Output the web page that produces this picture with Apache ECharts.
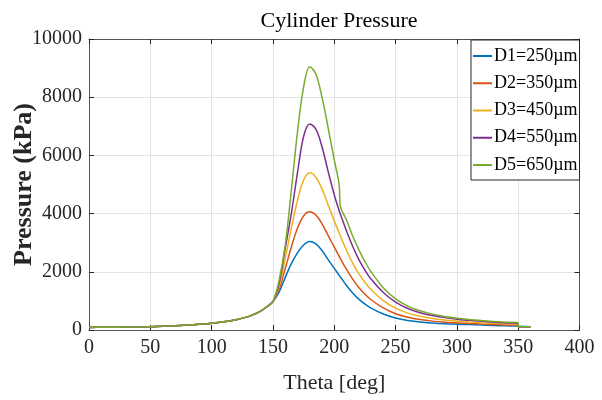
<!DOCTYPE html>
<html>
<head>
<meta charset="utf-8">
<script src="https://cdn.jsdelivr.net/npm/echarts@6/dist/echarts.min.js"></script>
<style>
html,body{margin:0;padding:0;background:#fff;}
#chart{width:602px;height:400px;}
</style>
</head>
<body>
<div id="chart"></div>
<script>
// Crank angle samples (deg)
const theta = [0,10,20,30,40,50,60,70,80,90,100,110,120,130,135,140,145,150,
  155,160,165,170,175,180,185,190,195,200,204,205,210,215,220,225,230,
  240,250,260,270,280,290,300,310,320,330,340,350,350,360];
// Shared compression stroke (0..150 deg), kPa
const compression = [90,92,95,100,106,115,128,145,170,200,235,285,355,460,545,650,800,980];
// Combustion / expansion part (155..350 deg) per nozzle diameter
const d1 = [1300,1800,2280,2650,2920,3040,2960,2730,2420,2120,1880,1820,1530,1270,1060,890,750,550,410,330,275,240,215,200,185,170,155,143,130];
const d2 = [1400,2100,2850,3500,3920,4060,3950,3650,3250,2850,2530,2450,2080,1750,1460,1230,1040,760,560,440,360,305,270,245,222,203,187,173,160];
const d3 = [1500,2450,3500,4450,5150,5400,5250,4850,4300,3750,3330,3230,2730,2300,1940,1640,1390,1010,750,580,470,395,345,308,278,252,230,210,190];
const d4 = [1600,2800,4000,5400,6650,7080,6900,6300,5450,4650,4100,3980,3400,2880,2430,2060,1750,1290,960,740,595,495,425,372,332,297,268,242,220];
const d5 = [1700,2900,4800,6800,8350,9050,8800,8000,6950,5850,5000,4250,3780,3230,2760,2350,2000,1450,1070,820,660,545,465,405,360,324,294,268,248];
// End of cycle (350 after drop, 360)
const tail = [110,110];
const names = ['D1=250\u00b5m','D2=350\u00b5m','D3=450\u00b5m','D4=550\u00b5m','D5=650\u00b5m'];
const colors = ['#0072BD','#D95319','#EDB120','#7E2F8E','#77AC30'];

const font = 'Liberation Serif, Times New Roman, serif';
const seriesVals = [d1,d2,d3,d4,d5];
const series = seriesVals.map((v,i)=>{
  const ys = compression.concat(v, tail);
  return {
    name: names[i], type:'line', showSymbol:false, symbol:'none',
    xAxisIndex:0, yAxisIndex:0,
    smooth:0.35,
    lineStyle:{color:colors[i], width:1.5},
    itemStyle:{color:colors[i]},
    data: theta.map((t,k)=>[t, ys[k]])
  };
});

const axisLineCol = '#555555';
const tickCol = '#262626';
const tick = {show:true, inside:true, length:5, lineStyle:{color:tickCol}};
const chart = echarts.init(document.getElementById('chart'), null, {renderer:'canvas'});
chart.setOption({
  animation:false,
  backgroundColor:'#ffffff',
  title:{text:'Cylinder Pressure', left:334, top:5, textAlign:'center',
    textStyle:{fontFamily:font, fontSize:22, fontWeight:'normal', color:'#000'}},
  grid:{left:89, right:22.5, top:39, bottom:70, containLabel:false, outerBoundsMode:'none'},
  legend:{
    orient:'vertical', left:471, top:40,
    padding:[6,2,5,2], itemGap:7.25,
    backgroundColor:'#ffffff', borderColor:'#262626', borderWidth:1,
    icon:'rect', itemWidth:19, itemHeight:2,
    textStyle:{fontFamily:font, fontSize:18, color:'#000', lineHeight:20, padding:[0,0,0,-3]},
    data: names
  },
  xAxis:[{
    type:'value', min:0, max:400, interval:50, position:'bottom',
    name:'Theta [deg]', nameLocation:'middle', nameGap:42, nameMoveOverlap:false,
    nameTextStyle:{fontFamily:font, fontSize:22, color:'#262626'},
    axisLine:{show:true, onZero:false, lineStyle:{color:axisLineCol, width:1}},
    axisTick:tick,
    axisLabel:{fontFamily:font, fontSize:20, color:'#262626', margin:8},
    splitLine:{show:true, lineStyle:{color:'#e3e3e3', width:1}}
  },{
    type:'value', min:0, max:400, interval:50, position:'top',
    axisLine:{show:true, onZero:false, lineStyle:{color:axisLineCol, width:1}},
    axisTick:tick,
    axisLabel:{show:false}, splitLine:{show:false}
  }],
  yAxis:[{
    type:'value', min:0, max:10000, interval:2000, position:'left',
    name:'Pressure (kPa)', nameLocation:'middle', nameGap:52, nameRotate:90, nameMoveOverlap:false,
    nameTextStyle:{fontFamily:font, fontSize:26, fontWeight:'bold', color:'#262626'},
    axisLine:{show:true, onZero:false, lineStyle:{color:axisLineCol, width:1}},
    axisTick:tick,
    axisLabel:{fontFamily:font, fontSize:20, color:'#262626', margin:7,
      formatter:(v)=>String(v)},
    splitLine:{show:true, lineStyle:{color:'#e3e3e3', width:1}}
  },{
    type:'value', min:0, max:10000, interval:2000, position:'right',
    axisLine:{show:true, onZero:false, lineStyle:{color:axisLineCol, width:1}},
    axisTick:tick,
    axisLabel:{show:false}, splitLine:{show:false}
  }],
  series: series
});
</script>
</body>
</html>
